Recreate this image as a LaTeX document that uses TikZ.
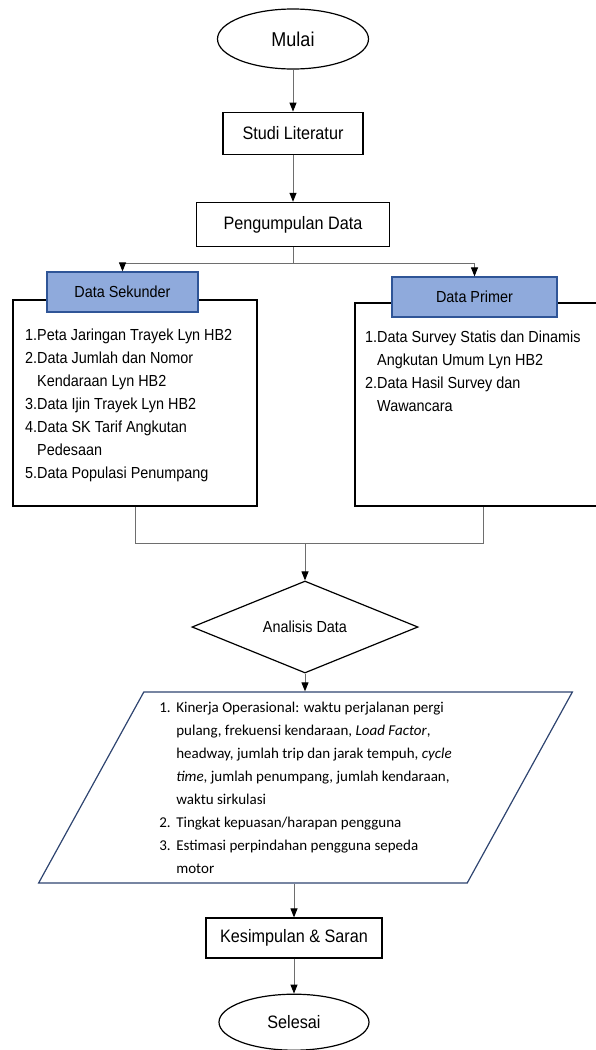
\documentclass[tikz,border=0pt]{standalone}
\usepackage{fontspec}
\setmainfont{Liberation Sans}[FakeStretch=0.9]
\newfontfamily\calibri{Carlito}
\usetikzlibrary{arrows.meta,positioning,shapes.geometric}
\definecolor{Tab}{HTML}{8FAADC}
\definecolor{TabLine}{HTML}{2F5597}
\definecolor{Navy}{HTML}{2E4470}
\definecolor{Wire}{HTML}{6E6E6E}
\newcommand{\fsize}[1]{\fontsize{#1}{#1}\selectfont}
\newcommand{\listfont}{\fontsize{16}{23}\selectfont}
\newcommand{\numbox}[1]{\makebox[17pt][l]{#1}}
\tikzset{
  terminal/.style={
    ellipse,draw,line width=1.2pt,minimum width=151pt,minimum height=60pt,
    inner sep=0pt,font=\fsize{20}
  },
  process/.style={
    rectangle,draw,line width=1.2pt,minimum height=42pt,inner sep=0pt,
    font=\fsize{18}
  },
  group/.style={rectangle,draw,line width=1.2pt,inner sep=0pt},
  tab/.style={
    rectangle,draw=TabLine,line width=1.2pt,fill=Tab,minimum height=40pt,
    inner sep=0pt,font=\fsize{16}
  },
  listing/.style={align=left,inner sep=0pt,font=\listfont,anchor=north west},
  decision/.style={
    diamond,aspect=2.4,draw,line width=1.2pt,minimum width=226pt,
    minimum height=92pt,inner sep=0pt,font=\fsize{16}
  },
  output/.style={
    trapezium,trapezium left angle=61,trapezium right angle=119,
    trapezium stretches=true,draw=Navy,line width=1.2pt,
    minimum width=537pt,minimum height=191pt,inner sep=0pt,align=left,
    font=\calibri\fontsize{15}{23}\selectfont
  },
  link/.style={draw=Wire,line width=1pt},
  arrow/.style={link,-{Triangle[length=9pt,width=7pt,color=black]}}
}
\begin{document}
\begin{tikzpicture}[x=1pt,y=-1pt]
\useasboundingbox (0,0) rectangle (596,1050);
\node[terminal] (mulai) at (293,39) {Mulai};
\node[process,minimum width=140pt,below=42pt of mulai] (studi) {Studi Literatur};
\node[process,minimum width=193pt,minimum height=44pt,below=47pt of studi] (kumpul) {Pengumpulan Data};
\node[group,minimum width=244pt,minimum height=206pt] (sekunder) at (135,403) {};
\node[group,minimum width=256pt,minimum height=203pt] (primer) at (483,404.5) {};
\node[tab,minimum width=151pt] (sektab) at (122.5,292) {Data Sekunder};
\node[tab,minimum width=165pt] (pritab) at (474.5,297) {Data Primer};
\node[listing] (sekisi) at (25,329) {1.Peta Jaringan Trayek Lyn HB2\\
  2.Data Jumlah dan Nomor\\ \hphantom{2.}Kendaraan Lyn HB2\\
  3.Data Ijin Trayek Lyn HB2\\ 4.Data SK Tarif Angkutan\\
  \hphantom{4.}Pedesaan\\ 5.Data Populasi Penumpang};
\node[listing] (priisi) at (365,331) {1.Data Survey Statis dan Dinamis\\
  \hphantom{1.}Angkutan Umum Lyn HB2\\ 2.Data Hasil Survey dan\\
  \hphantom{2.}Wawancara};
\node[decision] (analisis) at (305,627) {Analisis Data};
\node[output] (hasil) at (305.5,787.5) {%
  \numbox{1.}Kinerja Operasional: waktu perjalanan pergi\\
  \numbox{}pulang, frekuensi kendaraan, \textit{Load Factor},\\
  \numbox{}headway, jumlah trip dan jarak tempuh, \textit{cycle}\\
  \numbox{}\textit{time}, jumlah penumpang, jumlah kendaraan,\\
  \numbox{}waktu sirkulasi\\
  \numbox{2.}Tingkat kepuasan/harapan pengguna\\
  \numbox{3.}Estimasi perpindahan pengguna sepeda\\
  \numbox{}motor};
\node[process,minimum width=176pt,minimum height=40pt] (simpul) at (294,938) {Kesimpulan \& Saran};
\node[terminal,minimum width=150pt,minimum height=56pt,font=\fsize{18},below=35pt of simpul] (selesai) {Selesai};

\draw[arrow] (mulai) -- (studi);
\draw[arrow] (studi) -- (kumpul);
\draw[link] (kumpul.south) -- ++(0,16) coordinate (cabang);
\draw[arrow] (cabang) -| (sektab.north);
\draw[arrow] (cabang) -| (pritab.north);
\draw[link] (sekunder.south) -- ++(0,37) coordinate (gabung) -| (primer.south);
\draw[arrow] (gabung -| analisis.north) -- (analisis.north);
\draw[arrow] (analisis.south) -- (analisis.south |- hasil.north);
\draw[arrow] (hasil.south -| simpul.north) -- (simpul.north);
\draw[arrow] (simpul) -- (selesai);
\end{tikzpicture}
\end{document}
